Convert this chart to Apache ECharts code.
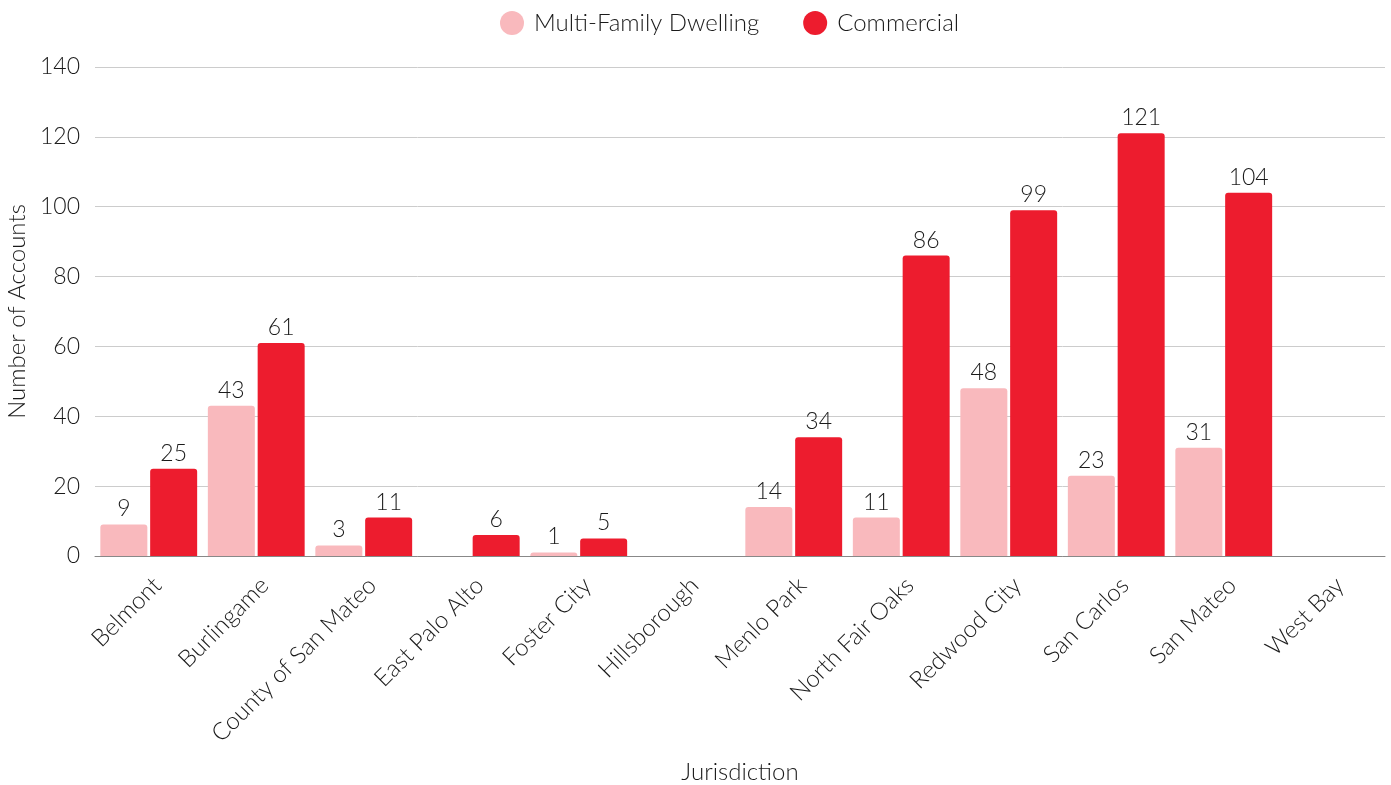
<!DOCTYPE html>
<html><head><meta charset="utf-8">
<script src="https://cdn.jsdelivr.net/npm/echarts@6/dist/echarts.min.js"></script>
<style>html,body{margin:0;padding:0;background:#fff}#c{width:1391px;height:785px}</style>
</head><body><div id="c"></div>
<script>
const categories = ["Belmont","Burlingame","County of San Mateo","East Palo Alto","Foster City","Hillsborough","Menlo Park","North Fair Oaks","Redwood City","San Carlos","San Mateo","West Bay"];
const multiFamily = [9,43,3,null,1,null,14,11,48,23,31,null];
const commercial = [25,61,11,6,5,null,34,86,99,121,104,null];
const yTicks = [0,20,40,60,80,100,120,140];

const font = 'Lato, "Open Sans", sans-serif';
const fw = 300;
const chart = echarts.init(document.getElementById('c'), null, {renderer:'canvas'});
const lbl = {show:true, position:'top', distance:4, fontFamily:font, fontWeight:fw, fontSize:23, color:'#1a1a1a'};
chart.setOption({
  animation:false,
  textStyle:{fontFamily:font},
  legend:{top:6, left:495, itemWidth:24, itemHeight:24, icon:'circle', itemGap:44,
    textStyle:{fontFamily:font, fontWeight:fw, fontSize:24, color:'#1a1a1a', padding:[0,0,0,5]},
    data:['Multi-Family Dwelling','Commercial']},
  grid:{left:95, right:6, top:67, bottom:229, containLabel:false, outerBoundsMode:'none'},
  xAxis:{type:'category', data:categories, name:'Jurisdiction', nameLocation:'middle', nameGap:204,
    nameTextStyle:{fontFamily:font, fontWeight:fw, fontSize:24, color:'#1a1a1a'},
    axisLine:{lineStyle:{color:'#888', width:1}}, axisTick:{show:false},
    axisLabel:{rotate:45, fontFamily:font, fontWeight:fw, fontSize:24, color:'#1a1a1a', margin:17, interval:0, verticalAlign:'top'}},
  yAxis:{type:'value', min:0, max:140, interval:20, name:'Number of Accounts', nameLocation:'middle', nameGap:59,
    nameTextStyle:{fontFamily:font, fontWeight:fw, fontSize:24, color:'#1a1a1a'},
    axisLine:{show:false}, axisTick:{show:false},
    axisLabel:{fontFamily:font, fontWeight:fw, fontSize:23, color:'#1a1a1a', margin:15,
      formatter:v=>yTicks.includes(v)?String(v):''},
    splitLine:{lineStyle:{color:'#ccc', width:1}}},
  series:[
    {name:'Multi-Family Dwelling', type:'bar', data:multiFamily, barWidth:47, barGap:'6%',
      itemStyle:{color:'#F9B9BD', borderRadius:[3,3,0,0]}, label:lbl},
    {name:'Commercial', type:'bar', data:commercial, barWidth:47,
      itemStyle:{color:'#ED1C2E', borderRadius:[3,3,0,0]}, label:lbl}
  ]
});
</script></body></html>
